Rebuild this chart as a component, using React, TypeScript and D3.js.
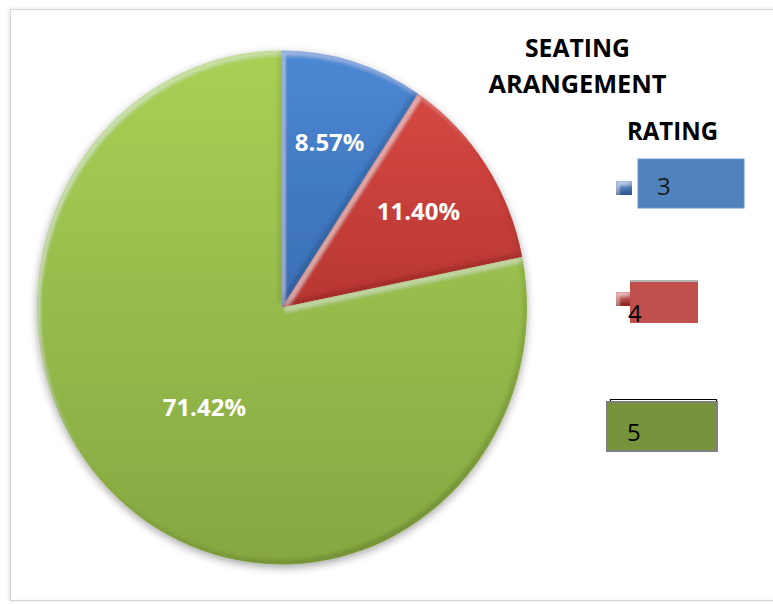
import React from 'react';
import * as d3 from 'd3';

const categories = ['3', '4', '5'];
const values = [8.57, 11.40, 71.42];
const valueLabels = ['8.57%', '11.40%', '71.42%'];
const titleLines = ['SEATING', 'ARANGEMENT'];
const legendTitle = 'RATING';

const W = 773;
const H = 604;
const cx = 282;
const cy = 307.5;
const rx = 245;
const ry = 257;

const sliceGrad = [
  ['#4b88d4', '#3a6eb3'],
  ['#d44843', '#b93733'],
  ['#a9d056', '#86a742'],
];
const legendFill = ['#4f81bd', '#c0504d', '#77933c'];
const markerGrad = [
  ['#7aa6dc', '#2f5f9e'],
  ['#e07a76', '#a02a27'],
  ['#b5d46f', '#6f8e2f'],
];

export default function App() {
  const pie = d3.pie<number>().sort(null).value((d) => d);
  const arcs = pie(values);
  const arcGen = d3.arc<d3.PieArcDatum<number>>().innerRadius(0).outerRadius(rx);
  const sy = ry / rx;
  const font = "'Open Sans', 'DejaVu Sans', sans-serif";

  const labelPos = arcs.map((a) => {
    const r = a.endAngle - a.startAngle > Math.PI ? 0.5 * rx : 0.67 * rx;
    const c = d3.arc<d3.PieArcDatum<number>>().innerRadius(r).outerRadius(r).centroid(a);
    return [cx + c[0], cy + c[1] * sy];
  });

  return (
    <svg width={W} height={H} style={{ position: 'absolute', left: 0, top: 0 }} xmlns="http://www.w3.org/2000/svg">
      <defs>
        {sliceGrad.map((g, i) => (
          <linearGradient key={i} id={`sg${i}`} x1="0" y1="0" x2="0" y2="1">
            <stop offset="0" stopColor={g[0]} />
            <stop offset="1" stopColor={g[1]} />
          </linearGradient>
        ))}
        {markerGrad.map((g, i) => (
          <linearGradient key={i} id={`mg${i}`} x1="0" y1="0" x2="0" y2="1">
            <stop offset="0" stopColor={g[0]} />
            <stop offset="1" stopColor={g[1]} />
          </linearGradient>
        ))}
        <filter id="bevel" x="-5%" y="-5%" width="110%" height="110%">
          <feOffset in="SourceAlpha" dx="3" dy="4" result="off1" />
          <feComposite in="SourceAlpha" in2="off1" operator="out" result="band1" />
          <feGaussianBlur in="band1" stdDeviation="1.8" result="b1" />
          <feFlood floodColor="#ffffff" floodOpacity="0.42" result="f1" />
          <feComposite in="f1" in2="b1" operator="in" result="hl" />
          <feComposite in="hl" in2="SourceAlpha" operator="in" result="hl2" />
          <feOffset in="SourceAlpha" dx="-3" dy="-4" result="off2" />
          <feComposite in="SourceAlpha" in2="off2" operator="out" result="band2" />
          <feGaussianBlur in="band2" stdDeviation="2" result="b2" />
          <feFlood floodColor="#000000" floodOpacity="0.35" result="f2" />
          <feComposite in="f2" in2="b2" operator="in" result="sh" />
          <feComposite in="sh" in2="SourceAlpha" operator="in" result="sh2" />
          <feMerge>
            <feMergeNode in="SourceGraphic" />
            <feMergeNode in="hl2" />
            <feMergeNode in="sh2" />
          </feMerge>
        </filter>
        <filter id="drop" x="-10%" y="-10%" width="120%" height="125%">
          <feDropShadow dx="0" dy="3" stdDeviation="4" floodColor="#000" floodOpacity="0.35" />
        </filter>
        <filter id="frameShadow" x="-5%" y="-5%" width="110%" height="110%">
          <feDropShadow dx="-1" dy="0" stdDeviation="1.5" floodColor="#000" floodOpacity="0.15" />
        </filter>
      </defs>

      <rect x={0} y={0} width={W} height={H} fill="#fff" />
      <rect x={10.5} y={9.5} width={775} height={591} fill="#fff" stroke="#d6d6d6" strokeWidth={1.2} filter="url(#frameShadow)" />

      <g filter="url(#drop)">
        <g transform={`translate(${cx},${cy}) scale(1,${sy})`}>
          {arcs.map((a, i) => (
            <path key={i} d={arcGen(a) || ''} fill={`url(#sg${i})`} filter="url(#bevel)" />
          ))}
        </g>
      </g>

      {arcs.map((a, i) => (
        <text
          key={i}
          x={labelPos[i][0]}
          y={labelPos[i][1]}
          dy="0.36em"
          textAnchor="middle"
          fontFamily={font}
          fontWeight={700}
          fontSize={24}
          fill="#ffffff"
        >
          {valueLabels[i]}
        </text>
      ))}

      <g fontFamily={font} fontWeight={700} fontSize={25} fill="#000">
        <text x={577.5} y={56.5} textAnchor="middle" textLength={105} lengthAdjust="spacingAndGlyphs">{titleLines[0]}</text>
        <text x={577.5} y={93} textAnchor="middle" textLength={178} lengthAdjust="spacingAndGlyphs">{titleLines[1]}</text>
        <text x={672.5} y={140} textAnchor="middle" textLength={91} lengthAdjust="spacingAndGlyphs">{legendTitle}</text>
      </g>

      {/* legend item 3 */}
      <rect x={638} y={159} width={106} height={49} fill={legendFill[0]} stroke="#6e96c8" strokeWidth={1} />
      <rect x={616} y={181} width={16} height={14} fill={`url(#mg0)`} filter="url(#bevel)" />
      <text x={657} y={195} fontFamily={font} fontSize={24} fill="#1a1a1a">{categories[0]}</text>

      {/* legend item 4 */}
      <line x1={630} x2={698} y1={281} y2={281} stroke="#b5b5b5" strokeWidth={2} />
      <rect x={630} y={282} width={68} height={41} fill={legendFill[1]} />
      <rect x={616} y={292} width={14} height={14} fill={`url(#mg1)`} filter="url(#bevel)" />
      <text x={628} y={322} fontFamily={font} fontSize={24} fill="#000">{categories[1]}</text>

      {/* legend item 5 */}
      <path d="M610.5,403 V399.5 H716.5 V403" fill="none" stroke="#000" strokeWidth={1.2} />
      <rect x={607} y={402} width={110} height={49} fill={legendFill[2]} stroke="#808080" strokeWidth={2} />
      <text x={627} y={441} fontFamily={font} fontSize={24} fill="#000">{categories[2]}</text>
    </svg>
  );
}
